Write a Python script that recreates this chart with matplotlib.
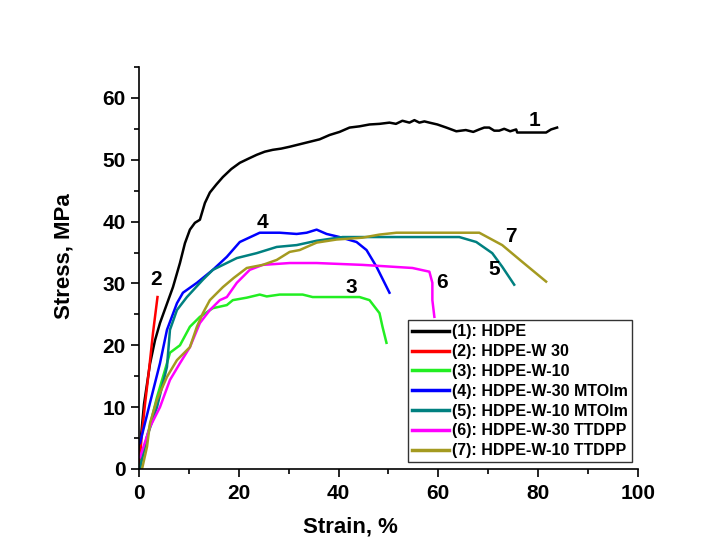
import matplotlib
matplotlib.use("Agg")
import matplotlib.pyplot as plt
from matplotlib.ticker import MultipleLocator

plt.rcParams['font.family'] = ['Liberation Sans', 'DejaVu Sans']
plt.rcParams['font.weight'] = 'bold'

# stress-strain curves, strain in %, stress in MPa
strain_1 = [0, 0.2, 1.0, 2.2, 3.2, 4.2, 5.5, 6.8, 8.2, 9.2, 10.2, 11.2, 12.2, 13.2, 14.2, 15.5,
            16.8, 18.5, 20.2, 22.0, 23.6, 25.2, 26.8, 28.5, 30.2, 32.2, 34.2, 36.2, 38.2, 40.2,
            42.2, 44.2, 46.2, 48.2, 50.2, 51.5, 52.8, 54.2, 55.2, 56.2, 57.2, 58.2, 59.8, 61.6,
            63.6, 65.5, 67.0, 68.2, 69.2, 70.2, 71.2, 72.2, 73.2, 74.4, 75.6, 75.8, 78.0, 80.0,
            81.6, 82.6, 83.8]
stress_1 = [0, 3.6, 10.5, 17.0, 20.8, 23.6, 26.5, 29.4, 33.3, 36.5, 38.7, 39.8, 40.3, 43.0, 44.7, 46.0,
            47.2, 48.5, 49.5, 50.2, 50.8, 51.3, 51.6, 51.8, 52.1, 52.5, 52.9, 53.3, 54.0, 54.5,
            55.2, 55.4, 55.7, 55.8, 56.0, 55.8, 56.3, 56.0, 56.4, 56.0, 56.2, 56.0, 55.7, 55.2,
            54.6, 54.8, 54.5, 54.9, 55.2, 55.2, 54.7, 54.7, 55.0, 54.6, 54.9, 54.4, 54.4, 54.4,
            54.4, 54.9, 55.2]

strain_2 = [0, 0.5, 1.2, 2.0, 2.8, 3.7]
stress_2 = [0, 5.0, 10.5, 16.0, 22.0, 27.8]

strain_3 = [0.2, 1.6, 3.6, 5.6, 6.2, 8.2, 10.2, 12.2, 14.8, 17.6, 18.8, 21.6, 24.2, 25.6, 28.2,
            32.8, 34.8, 38.2, 44.2, 46.2, 48.2, 48.8, 49.6]
stress_3 = [0.3, 5.2, 11.6, 17.1, 18.8, 20.0, 23.0, 24.6, 26.0, 26.5, 27.3, 27.7, 28.2, 27.9, 28.2,
            28.2, 27.8, 27.8, 27.8, 27.3, 25.2, 23.0, 20.4]

strain_4 = [0.2, 2.2, 4.2, 5.6, 7.6, 8.8, 11.6, 14.8, 17.6, 20.2, 24.2, 28.2, 31.6, 33.6, 35.6,
            37.6, 40.2, 43.6, 45.6, 47.6, 50.2]
stress_4 = [4.2, 10.7, 17.1, 22.5, 26.8, 28.5, 30.1, 32.2, 34.3, 36.7, 38.2, 38.2, 38.0, 38.2, 38.7,
            38.0, 37.5, 36.7, 35.4, 32.7, 28.5]

strain_5 = [0.2, 1.6, 3.6, 5.6, 6.2, 7.6, 9.6, 12.8, 14.8, 19.6, 23.6, 27.6, 31.6, 35.6, 40.8,
            46.2, 58.2, 64.2, 67.6, 70.8, 72.8, 75.2]
stress_5 = [0.2, 5.2, 10.0, 16.5, 22.5, 25.7, 27.8, 30.6, 32.2, 34.1, 34.9, 35.9, 36.2, 36.9, 37.5,
            37.5, 37.5, 37.5, 36.7, 34.9, 32.7, 29.8]

strain_6 = [0.2, 2.2, 4.2, 6.2, 8.2, 10.2, 12.2, 14.2, 16.2, 17.6, 19.6, 22.2, 24.8, 30.2, 35.6,
            44.8, 54.8, 58.2, 58.8, 58.8, 59.2]
stress_6 = [1.9, 6.8, 10.0, 14.4, 17.1, 19.7, 23.6, 25.7, 27.3, 27.8, 30.1, 32.2, 33.0, 33.3, 33.3,
            33.0, 32.5, 31.9, 30.1, 27.3, 24.6]

strain_7 = [0.6, 1.6, 2.2, 3.6, 5.6, 7.6, 10.2, 11.6, 12.8, 14.2, 16.8, 19.0, 21.6, 24.8, 27.6,
            30.2, 32.2, 35.6, 39.6, 44.8, 48.2, 51.6, 58.2, 68.2, 72.8, 76.8, 81.6]
stress_7 = [0, 3.6, 7.4, 11.2, 14.9, 17.6, 19.7, 23.0, 25.2, 27.3, 29.4, 30.9, 32.5, 33.0, 33.8,
            35.1, 35.4, 36.6, 37.1, 37.4, 37.9, 38.2, 38.2, 38.2, 36.2, 33.5, 30.3]

curves = [(strain_1, stress_1), (strain_2, stress_2), (strain_3, stress_3), (strain_4, stress_4),
          (strain_5, stress_5), (strain_6, stress_6), (strain_7, stress_7)]
names = ['(1): HDPE', '(2): HDPE-W 30', '(3): HDPE-W-10', '(4): HDPE-W-30 MTOIm',
         '(5): HDPE-W-10 MTOIm', '(6): HDPE-W-30 TTDPP', '(7): HDPE-W-10 TTDPP']
colors = ['#000000', '#FF0000', '#22EE22', '#0000FF', '#008080', '#FF00FF', '#A49A20']

# curve number labels
label_text = ['1', '2', '3', '4', '5', '6', '7']
label_x = [79.2, 3.4, 42.6, 24.8, 71.2, 60.8, 74.6]
label_y = [56.4, 30.6, 29.3, 39.8, 32.2, 30.1, 37.6]

fig = plt.figure(figsize=(7.23, 5.47), dpi=100)
ax = fig.add_axes([0.1923, 0.1426, 0.690, 0.735])

for (sx, sy), name, c in zip(curves, names, colors):
    ax.plot(sx, sy, color=c, lw=1.8, label=name)

for t, lx, ly in zip(label_text, label_x, label_y):
    ax.text(lx, ly, t, fontsize=15, fontweight='bold', ha='center', va='center')

ax.set_xlim(0, 100)
ax.set_ylim(0, 65)
ax.xaxis.set_major_locator(MultipleLocator(20))
ax.xaxis.set_minor_locator(MultipleLocator(10))
ax.yaxis.set_major_locator(MultipleLocator(10))
ax.yaxis.set_minor_locator(MultipleLocator(5))
ax.spines['top'].set_visible(False)
ax.spines['right'].set_visible(False)
ax.spines['left'].set_linewidth(1.2)
ax.spines['bottom'].set_linewidth(1.2)
ax.tick_params(which='major', direction='out', length=6, width=1.2, labelsize=15)
ax.tick_params(axis='x', which='major', pad=5)
ax.tick_params(which='minor', direction='out', length=3.5, width=1.2)
for lab in ax.get_xticklabels() + ax.get_yticklabels():
    lab.set_fontweight('bold')

ax.set_xlabel('Strain, %', fontsize=16, fontweight='bold')
ax.set_ylabel('Stress, MPa', fontsize=16, fontweight='bold')
ax.xaxis.set_label_coords(0.423, -0.117)
ax.yaxis.set_label_coords(-0.129, 0.53)

leg = ax.legend(loc='lower right', bbox_to_anchor=(0.988, 0.017), fontsize=11.5,
                frameon=True, fancybox=False, edgecolor='black', handlelength=2.3,
                handletextpad=0.2, labelspacing=0.3, borderpad=0.25, borderaxespad=0)
leg.get_frame().set_linewidth(1.0)
for txt in leg.get_texts():
    txt.set_fontweight('bold')
for line in leg.get_lines():
    line.set_linewidth(2.5)

fig.savefig('out.png', dpi=100)
